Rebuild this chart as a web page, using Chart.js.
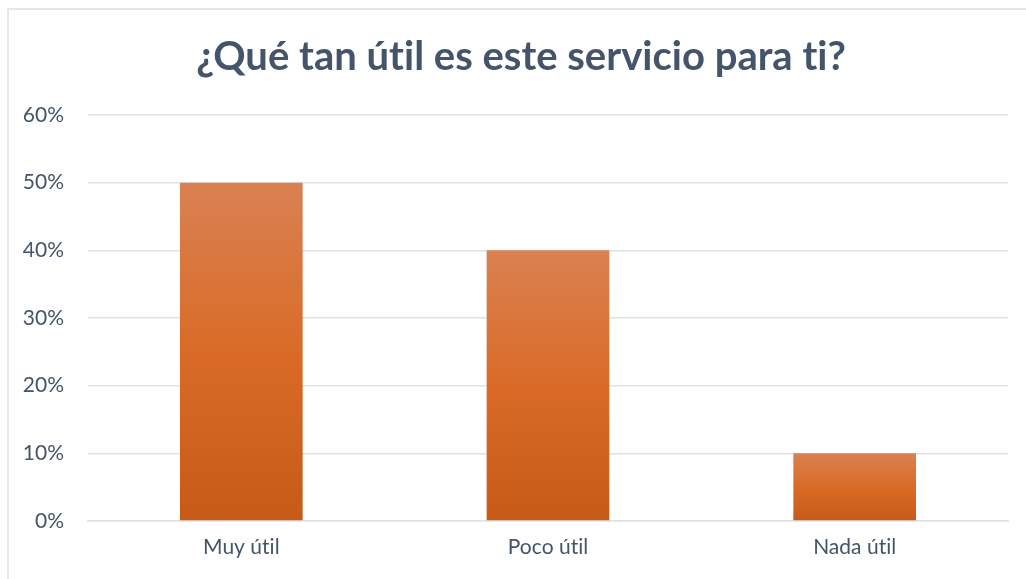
<!DOCTYPE html>
<html>
<head>
<meta charset="utf-8">
<script src="https://cdn.jsdelivr.net/npm/chart.js@4"></script>
<style>
  html, body { margin: 0; padding: 0; background: #fff; overflow: hidden; }
  #frame {
    position: absolute; left: 7px; top: 8px; width: 1100px; height: 700px;
    border-top: 2px solid #E3E7EC; border-left: 2px solid #E3E7EC;
  }
  #wrap { position: absolute; left: 0; top: 0; width: 1026px; height: 579px; }
</style>
</head>
<body>
<div id="frame"></div>
<div id="wrap"><canvas id="chart"></canvas></div>
<script>
const categories = ["Muy útil", "Poco útil", "Nada útil"];
const values = [50, 40, 10];
const tickValues = [0, 10, 20, 30, 40, 50, 60];

const textColor = "#44546A";
const gridColor = "#DDE2E8";
const fontFamily = "Lato, 'Open Sans', sans-serif";

function barGradient(context) {
  const chart = context.chart;
  if (!chart.chartArea || context.parsed === undefined) return "#D86A25";
  const y = chart.scales.y;
  const top = y.getPixelForValue(context.parsed.y);
  const bottom = y.getPixelForValue(0);
  const g = chart.ctx.createLinearGradient(0, top, 0, bottom);
  g.addColorStop(0, "#D98152");
  g.addColorStop(0.5, "#D96B27");
  g.addColorStop(1, "#C65A16");
  return g;
}

// keep "ti" from joining into a ligature (canvas state is reset on resize, so do it every draw)
// and center the title over the plot area instead of the whole canvas
const tweaks = {
  id: "tweaks",
  afterLayout(chart) {
    if (chart.titleBlock) {
      chart.titleBlock.left = chart.chartArea.left - 54;
    }
  },
  beforeDraw(chart) {
    chart.ctx.textRendering = "optimizeSpeed";
    chart.ctx.letterSpacing = "0.01px";
  },
};

new Chart(document.getElementById("chart"), {
  type: "bar",
  data: {
    labels: categories,
    datasets: [
      {
        data: values,
        backgroundColor: barGradient,
        barPercentage: 0.4,
        categoryPercentage: 1,
      },
    ],
  },
  plugins: [tweaks],
  options: {
    responsive: true,
    maintainAspectRatio: false,
    animation: false,
    layout: { padding: { top: 30, right: 18, bottom: 0, left: 0 } },
    plugins: {
      legend: { display: false },
      tooltip: { enabled: false },
      title: {
        display: true,
        text: "¿Qué tan útil es este servicio para ti?",
        color: textColor,
        font: { family: fontFamily, size: 40, weight: "bold" },
        padding: { top: 3, bottom: 34 },
      },
    },
    scales: {
      y: {
        min: 0,
        max: 60,
        afterBuildTicks: (s) => {
          s.ticks = tickValues.map((v) => ({ value: v }));
        },
        afterFit: (s) => {
          s.width = 88;
        },
        ticks: {
          color: textColor,
          padding: 24,
          font: { family: fontFamily, size: 21 },
          callback: (v) => v + "%",
        },
        grid: { color: gridColor, lineWidth: 1.5, drawTicks: false },
        border: { display: false },
      },
      x: {
        afterFit: (s) => {
          s.height = 58;
        },
        ticks: {
          color: textColor,
          padding: 14,
          font: { family: fontFamily, size: 21 },
        },
        grid: { display: false, drawTicks: false },
        border: { color: gridColor, width: 1.5 },
      },
    },
  },
});
</script>
</body>
</html>
